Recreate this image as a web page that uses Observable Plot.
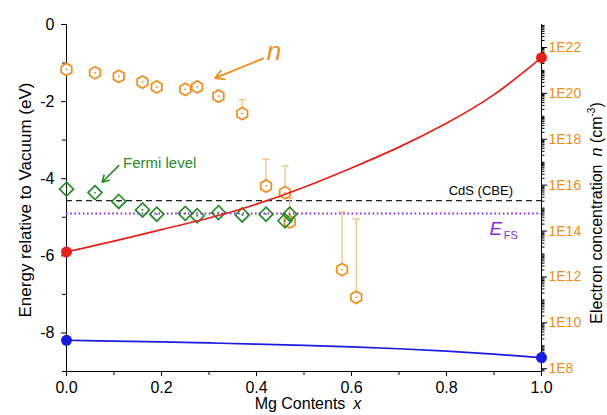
<!DOCTYPE html>
<html><head><meta charset="utf-8">
<script src="https://cdn.jsdelivr.net/npm/d3@7"></script>
<script src="https://cdn.jsdelivr.net/npm/@observablehq/plot@0.6"></script>
<style>body{margin:0;background:#fff;overflow:hidden} svg{display:block}</style>
</head><body><div id="chart"></div>
<script>
// ---- data ----
const fermiX = [0, 0.06, 0.11, 0.16, 0.19, 0.25, 0.275, 0.32, 0.37, 0.42, 0.46, 0.47];
const fermiLevel = [-4.27, -4.36, -4.59, -4.81, -4.92, -4.90, -4.96, -4.88, -4.94, -4.92, -5.09, -4.92];

const nX = [0, 0.06, 0.11, 0.16, 0.19, 0.25, 0.275, 0.32, 0.37, 0.42, 0.46, 0.47, 0.58, 0.61];
const nValue = [1.1e21, 7.9e20, 5.5e20, 3.1e20, 1.9e20, 1.5e20, 1.9e20, 7.6e19, 1.3e19, 9.1e15, 4.7e15, 2.5e14, 2.1e12, 1.3e11];
const nErrTop = [null, null, null, null, null, null, null, null, 5.4e19, 1.35e17, 6.9e16, 2.7e15, 6.9e14, 3.4e14];

const bandX = [0, 0.1, 0.2, 0.3, 0.4, 0.5, 0.6, 0.7, 0.8, 0.9, 1.0];
const cbm = [-5.90, -5.62, -5.32, -5.02, -4.66, -4.22, -3.72, -3.18, -2.56, -1.82, -0.86];
const vbm = [-8.19, -8.21, -8.23, -8.26, -8.29, -8.32, -8.36, -8.41, -8.47, -8.55, -8.64];

const cdsCBE = -4.57;
const efs = -4.90;

const leftTicks = [-8, -6, -4, -2, 0];
const leftMinor = [-9, -7, -5, -3, -1];
const xTicks = [0, 0.2, 0.4, 0.6, 0.8, 1.0];
const xMinor = [0.1, 0.3, 0.5, 0.7, 0.9];
const rightExps = [8, 10, 12, 14, 16, 18, 20, 22];

// right (log n) axis range, matched to left energy axis [-9, 0]
const logTop = 23, logBottom = 7.88;
const eMin = -9, eMax = 0;
const toE = n => eMax + (Math.log10(n) - logTop) * (eMax - eMin) / (logTop - logBottom);
const fromE = e => logTop + (e - eMax) * (logTop - logBottom) / (eMax - eMin);

const ORANGE = "#f08c1a", ORANGE_LIGHT = "#f5bd78", GREEN = "#2a8a2a", RED = "#e5201b", BLUE = "#1a1ae0", PURPLE = "#8a2be2";

// tables
const fermi = fermiX.map((x, i) => ({x, e: fermiLevel[i]}));
const conc = nX.map((x, i) => ({x, e: toE(nValue[i]), top: nErrTop[i] ? toE(nErrTop[i]) : null}));
const errs = conc.filter(d => d.top !== null);
const bands = bandX.map((x, i) => ({x, cbm: cbm[i], vbm: vbm[i]}));
const ends = [bands[0], bands[bands.length - 1]];

const rightMinor = [];
for (let k = 7; k <= 22; k++) for (let m = 1; m <= 9; m++) {
  const l = Math.log10(m * 10 ** k);
  if (l >= logBottom && l <= logTop && !(m === 1 && rightExps.includes(k))) rightMinor.push(toE(m * 10 ** k));
}

const capW = 0.0075;

const chart = Plot.plot({
  width: 607, height: 415,
  marginLeft: 66, marginRight: 66, marginTop: 24, marginBottom: 44,
  x: {domain: [0, 1]},
  y: {domain: [eMin, eMax]},
  style: {fontFamily: "'Liberation Sans', Arial, sans-serif", fontSize: "16px", background: "#fff", color: "#000"},
  marks: [
    // axes
    Plot.axisY(leftTicks, {anchor: "left", tickSize: 5, tickPadding: 7, tickFormat: d => String(d), label: null}),
    Plot.axisY(leftMinor, {anchor: "left", tickSize: 4, tickFormat: () => "", label: null}),
    Plot.axisX(xTicks, {anchor: "bottom", tickSize: 5, tickPadding: 5, tickFormat: d3.format(".1f"), label: null}),
    Plot.axisX(xMinor, {anchor: "bottom", tickSize: 4, tickFormat: () => "", label: null}),
    Plot.axisY(rightExps.map(k => toE(10 ** k)), {anchor: "right", tickSize: 5, tickPadding: 2, stroke: "#000", fill: ORANGE, fontSize: 14,
      tickFormat: d => "1E" + Math.round(fromE(d)), label: null}),
    Plot.axisY(rightMinor, {anchor: "right", tickSize: 2.5, stroke: "#000", tickFormat: () => "", label: null}),
    Plot.ruleX([0], {stroke: "#000"}),
    Plot.ruleX([1], {stroke: "#000"}),
    Plot.ruleY([eMin], {stroke: "#000"}),

    // reference levels
    Plot.ruleY([cdsCBE], {stroke: "#222", strokeDasharray: "6,4", strokeWidth: 1.2}),
    Plot.ruleY([efs], {stroke: PURPLE, strokeDasharray: "1.6,2.6", strokeWidth: 2}),

    // electron concentration
    Plot.ruleX(errs, {x: "x", y1: "e", y2: "top", stroke: ORANGE_LIGHT, strokeWidth: 1.2}),
    Plot.link(errs, {x1: d => d.x - capW, x2: d => d.x + capW, y1: "top", y2: "top", stroke: ORANGE_LIGHT, strokeWidth: 1.2}),
    Plot.dot(conc, {x: "x", y: "e", symbol: "hexagon", r: 5.3, stroke: ORANGE, fill: "white", strokeWidth: 1.7}),
    Plot.dot(conc, {x: "x", y: "e", r: 0.9, fill: ORANGE}),

    // Fermi level
    Plot.dot(fermi, {x: "x", y: "e", symbol: "diamond2", r: 6.3, stroke: GREEN, fill: "none", strokeWidth: 1.7}),
    Plot.dot(fermi, {x: "x", y: "e", r: 0.9, fill: GREEN}),

    // band edges
    Plot.line(bands, {x: "x", y: "cbm", stroke: RED, strokeWidth: 1.7, curve: "natural"}),
    Plot.line(bands, {x: "x", y: "vbm", stroke: BLUE, strokeWidth: 1.7, curve: "natural"}),
    Plot.dot(ends, {x: "x", y: "cbm", r: 5.5, fill: RED}),
    Plot.dot(ends, {x: "x", y: "vbm", r: 5.5, fill: BLUE}),

    // annotations
    Plot.text(["n"], {x: 0.437, y: -0.70, fontSize: 26, fontStyle: "italic", fill: ORANGE}),
    Plot.arrow([0], {x1: 0.414, y1: -0.88, x2: 0.313, y2: -1.39, stroke: ORANGE, strokeWidth: 1.8, headLength: 8}),
    Plot.text(["Fermi level"], {x: 0.119, y: -3.59, textAnchor: "start", fontSize: 15, fill: GREEN}),
    Plot.arrow([0], {x1: 0.11, y1: -3.66, x2: 0.075, y2: -4.09, stroke: GREEN, strokeWidth: 1.6, headLength: 7}),
    Plot.text(["CdS (CBE)"], {x: 0.94, y: -4.31, textAnchor: "end", fontSize: 13, fill: "#000"}),
    Plot.text(["E"], {x: 0.904, y: -5.30, fontSize: 19, fontStyle: "italic", fill: PURPLE}),
    Plot.text(["FS"], {x: 0.904, y: -5.30, dx: 15, dy: 7, fontSize: 11, fill: PURPLE})
  ]
});

// axis titles with rich text
const svg = d3.select(chart);
const font = "'Liberation Sans', Arial, sans-serif";
svg.append("text").attr("transform", "translate(25,200) rotate(-90)")
  .attr("text-anchor", "middle").attr("dy", "0.35em").attr("font-size", 17).attr("font-family", font)
  .text("Energy relative to Vacuum (eV)");
const rt = svg.append("text").attr("transform", "translate(596,213) rotate(-90)")
  .attr("text-anchor", "middle").attr("dy", "0.35em").attr("font-size", 16).attr("font-family", font);
rt.append("tspan").text("Electron concentration\u2002");
rt.append("tspan").attr("font-style", "italic").text("n");
rt.append("tspan").text(" (cm");
rt.append("tspan").attr("font-size", 10).attr("dy", "-0.7em").text("-3");
rt.append("tspan").attr("dy", "0.45em").text(")");
const xt = svg.append("text").attr("x", 308).attr("y", 403)
  .attr("text-anchor", "middle").attr("dy", "0.35em").attr("font-size", 16).attr("font-family", font);
xt.append("tspan").text("Mg Contents\u2002");
xt.append("tspan").attr("font-style", "italic").text("x");

document.getElementById("chart").appendChild(chart);
</script>
</body></html>
